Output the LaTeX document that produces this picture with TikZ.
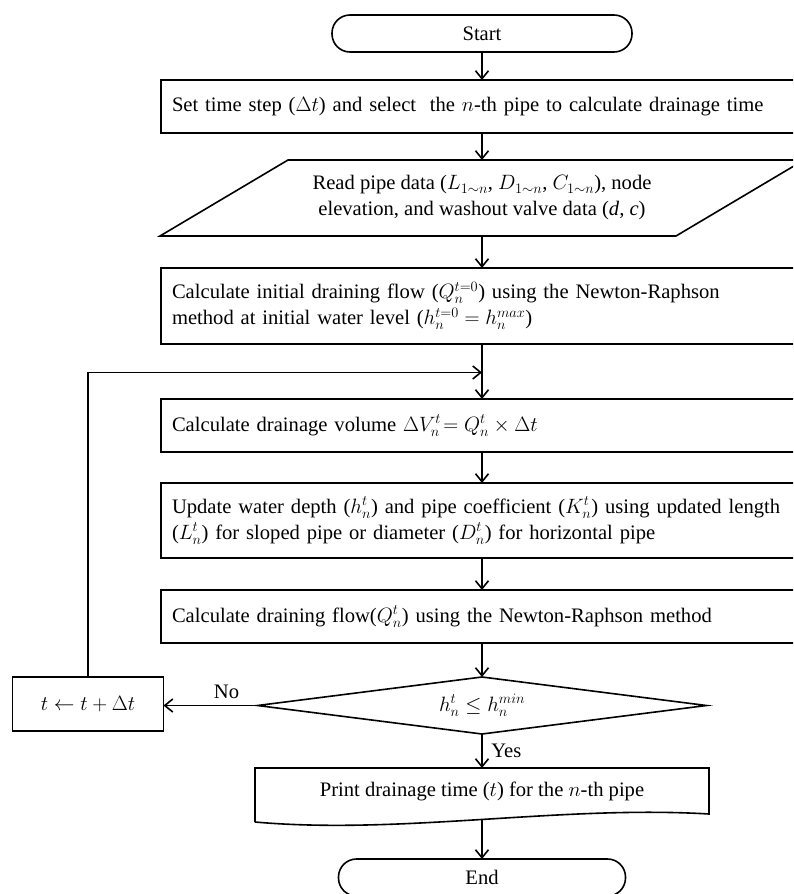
\documentclass[tikz,border=0pt]{standalone}
\usepackage{fontspec}
\setmainfont{Liberation Serif}
\usetikzlibrary{arrows.meta,positioning,shapes.geometric,calc}

\begin{document}
\begin{tikzpicture}[x=1pt,y=1pt,font=\fontsize{20.6}{26}\selectfont,line width=1.6pt,outer sep=0pt,
term/.style={draw,rectangle,rounded corners=18pt,minimum width=300pt,minimum height=37pt,inner sep=0pt},
proc/.style={draw,rectangle,text width=620pt,inner xsep=11pt,align=left},
test/.style={draw,diamond,aspect=7.9,minimum width=449pt,minimum height=57pt,inner sep=0pt},
arr/.style={-{Straight Barb[length=8pt,width=13pt]}}]
\clip (0,0) rectangle (793,-894);
\node[term] (start) at (482,-33.5) {Start};
\node[proc,minimum height=53pt,below=28pt of start] (step) {Set time step ($\Delta t$) and select~ the $n$-th pipe to calculate drainage time};
\node[minimum width=644pt,minimum height=76pt,align=center,below=27pt of step] (read) {Read pipe data ($L_{1\sim n}$, $D_{1\sim n}$, $C_{1\sim n}$), node\\elevation, and washout valve data (\textit{d, c})};
\node[proc,minimum height=76pt,below=32pt of read] (init) {Calculate initial draining flow ($Q_n^{t=0}$) using the Newton-Raphson\\ method at initial water level ($h_n^{t=0}=h_n^{max}$)};
\node[proc,minimum height=53pt,below=55pt of init] (vol) {Calculate drainage volume $\Delta V_n^t\!= Q_n^t\times\Delta t$};
\node[proc,minimum height=75pt,below=31pt of vol] (upd) {Update water depth ($h_n^t$) and pipe coefficient ($K_n^t$) using updated length\\($L_n^t$) for sloped pipe or diameter ($D_n^t$) for horizontal pipe};
\node[proc,minimum height=53pt,below=32pt of upd] (flow) {Calculate draining flow($Q_n^t$) using the Newton-Raphson method};
\node[test,below=34pt of flow] (check) {$h_n^t\le h_n^{min}$};
\node[draw,minimum width=151pt,minimum height=54pt] (tnext) at (88,-704) {$t\leftarrow t+\Delta t$};
\node[minimum width=454pt,minimum height=46pt,below=34pt of check] (print) {Print drainage time ($t$) for the $n$-th pipe};
\node[term,minimum width=287pt,below=45pt of print] (end) {End};
% slanted data box
\draw (read.south west) -- ($(read.north west)+(128,0)$) -- (read.north east) -- ($(read.south east)+(-128,0)$) -- cycle;
% wavy bottom of the print box
\draw ($(print.south west)+(0,-8)$) -- (print.north west) -- (print.north east) -- (print.south east)
 .. controls ($(print.south east)+(-148,9)$) and ($(print.south west)+(146,-21)$) .. ($(print.south west)+(0,-8)$);
\coordinate (wave) at ($(print.south)+(0,-5.5)$);
\coordinate (join) at ($(init.south)!0.5!(vol.north)+(0,-1)$);
\draw[arr] (start) -- (step);
\draw[arr] (step) -- (read);
\draw[arr] (read) -- (init);
\draw[arr] (init) -- (vol);
\draw[arr] (vol) -- (upd);
\draw[arr] (upd) -- (flow);
\draw[arr] (flow) -- (check);
\draw[arr] (check) -- node[right,xshift=6pt]{Yes} (print);
\draw[arr] (wave) -- (end);
\draw[arr] (check.west) -- node[above,pos=0.33,yshift=3pt]{No} (tnext.east |- check.west);
\draw[arr] (tnext.north) |- (join);
\end{tikzpicture}
\end{document}
